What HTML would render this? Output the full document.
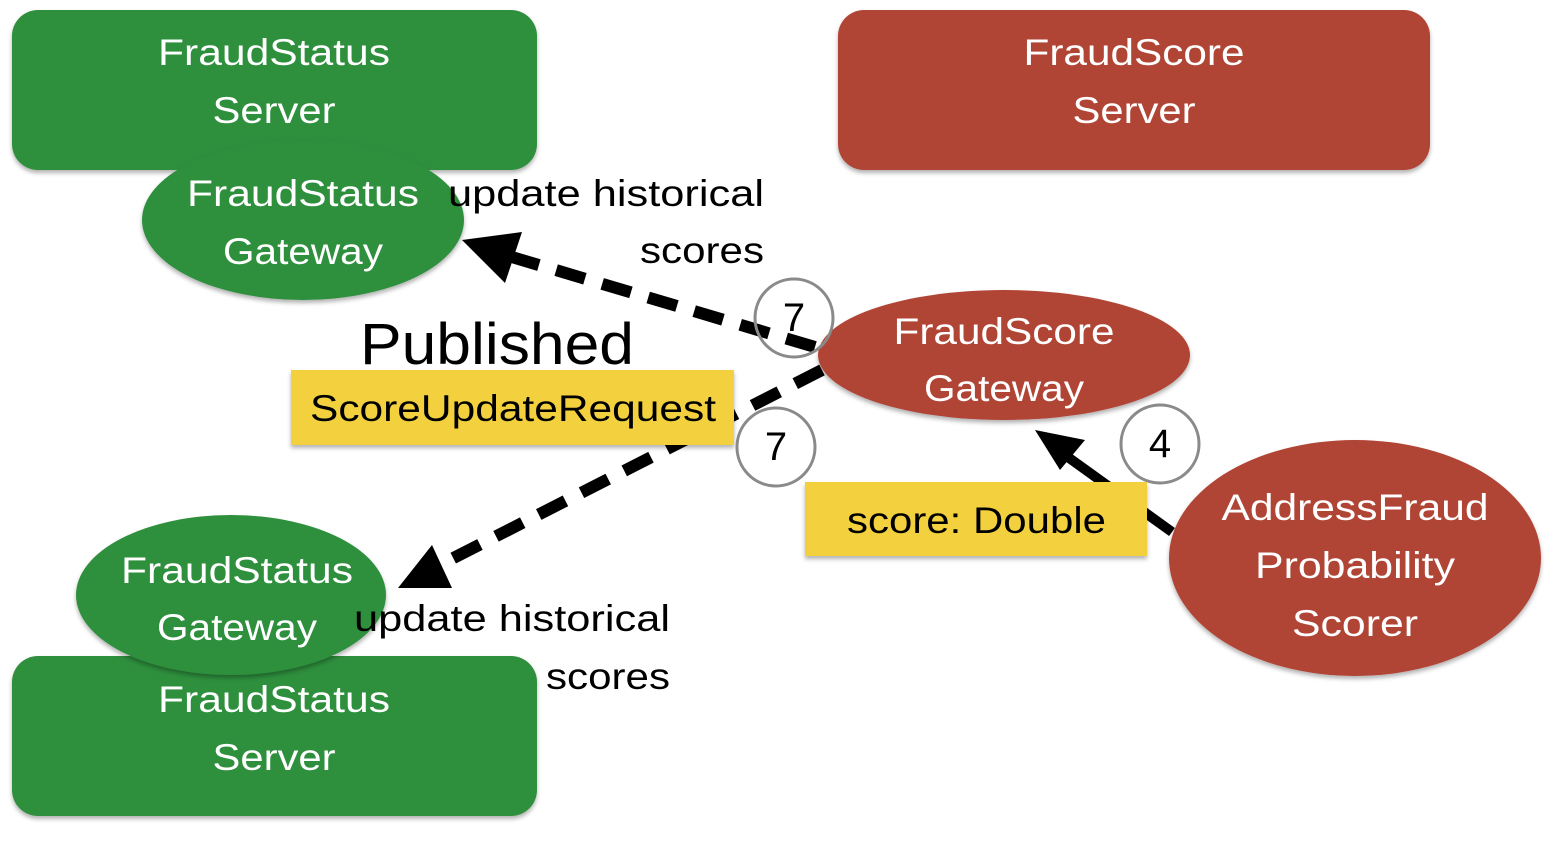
<!DOCTYPE html>
<html><head><meta charset="utf-8"><style>
body{margin:0;background:#fff}
svg text{font-family:"Liberation Sans",sans-serif}
</style></head><body>
<svg width="1558" height="836" viewBox="0 0 1558 836" xmlns="http://www.w3.org/2000/svg">
<defs><filter id="s" x="-10%" y="-10%" width="120%" height="130%"><feDropShadow dx="0" dy="3" stdDeviation="2" flood-color="#000" flood-opacity="0.3"/></filter></defs>
<rect x="12" y="10" width="525" height="160" rx="26" fill="#2f8f3e" filter="url(#s)"/>
<rect x="12" y="656" width="525" height="160" rx="26" fill="#2f8f3e" filter="url(#s)"/>
<rect x="838" y="10" width="592" height="160" rx="26" fill="#b04436" filter="url(#s)"/>
<ellipse cx="303" cy="220" rx="161" ry="80" fill="#2f8f3e" filter="url(#s)"/>
<ellipse cx="231" cy="595" rx="155" ry="80" fill="#2f8f3e" filter="url(#s)"/>
<ellipse cx="1004" cy="355" rx="186" ry="65" fill="#b04436" filter="url(#s)"/>
<ellipse cx="1355" cy="558" rx="186" ry="118" fill="#b04436" filter="url(#s)"/>
<g fill="#fff" font-size="37" text-anchor="middle">
<text x="274" y="65" textLength="232" lengthAdjust="spacingAndGlyphs">FraudStatus</text><text x="274" y="123" textLength="123" lengthAdjust="spacingAndGlyphs">Server</text>
<text x="1134" y="65" textLength="221" lengthAdjust="spacingAndGlyphs">FraudScore</text><text x="1134" y="123" textLength="123" lengthAdjust="spacingAndGlyphs">Server</text>
<text x="303" y="206" textLength="232" lengthAdjust="spacingAndGlyphs">FraudStatus</text><text x="303" y="264" textLength="160" lengthAdjust="spacingAndGlyphs">Gateway</text>
<text x="237" y="583" textLength="232" lengthAdjust="spacingAndGlyphs">FraudStatus</text><text x="237" y="640" textLength="160" lengthAdjust="spacingAndGlyphs">Gateway</text>
<text x="274" y="712" textLength="232" lengthAdjust="spacingAndGlyphs">FraudStatus</text><text x="274" y="770" textLength="123" lengthAdjust="spacingAndGlyphs">Server</text>
<text x="1004" y="344" textLength="221" lengthAdjust="spacingAndGlyphs">FraudScore</text><text x="1004" y="401" textLength="160" lengthAdjust="spacingAndGlyphs">Gateway</text>
<text x="1355" y="520" textLength="267" lengthAdjust="spacingAndGlyphs">AddressFraud</text><text x="1355" y="578" textLength="200" lengthAdjust="spacingAndGlyphs">Probability</text><text x="1355" y="636" textLength="126" lengthAdjust="spacingAndGlyphs">Scorer</text>
</g>
<g font-size="37" fill="#000">
<text x="448" y="206" textLength="316" lengthAdjust="spacingAndGlyphs">update historical</text><text x="640" y="263" textLength="124" lengthAdjust="spacingAndGlyphs">scores</text>
<text x="354" y="631" textLength="316" lengthAdjust="spacingAndGlyphs">update historical</text><text x="546" y="689" textLength="124" lengthAdjust="spacingAndGlyphs">scores</text>
</g>
<text x="360" y="364" font-size="58" fill="#000" textLength="274" lengthAdjust="spacingAndGlyphs">Published</text>
<g stroke="#000" stroke-width="12" fill="none" stroke-dasharray="30 18">
<line x1="815" y1="347" x2="505" y2="255"/>
<line x1="822" y1="370" x2="430" y2="570"/>
</g>
<polygon points="462,240 522,232 505,283" fill="#000"/>
<polygon points="398,588 432,545 452,588" fill="#000"/>
<line x1="1172" y1="532" x2="1065" y2="455" stroke="#000" stroke-width="10"/>
<polygon points="1035,430 1085,440 1060,470" fill="#000"/>
<rect x="291" y="370" width="443" height="75" fill="#f3d03c" filter="url(#s)"/>
<rect x="805" y="482" width="342" height="74" fill="#f3d03c" filter="url(#s)"/>
<g font-size="37" fill="#000">
<text x="310" y="421" textLength="406" lengthAdjust="spacingAndGlyphs">ScoreUpdateRequest</text>
<text x="847" y="533" textLength="259" lengthAdjust="spacingAndGlyphs">score: Double</text>
</g>
<g fill="none" stroke="#8a8a8a" stroke-width="3">
<circle cx="794" cy="318" r="39"/>
<circle cx="776" cy="447" r="39"/>
<circle cx="1160" cy="444" r="39"/>
</g>
<g font-size="40" text-anchor="middle" fill="#000">
<text x="794" y="331">7</text><text x="776" y="460">7</text><text x="1160" y="457">4</text>
</g>
</svg>
</body></html>
